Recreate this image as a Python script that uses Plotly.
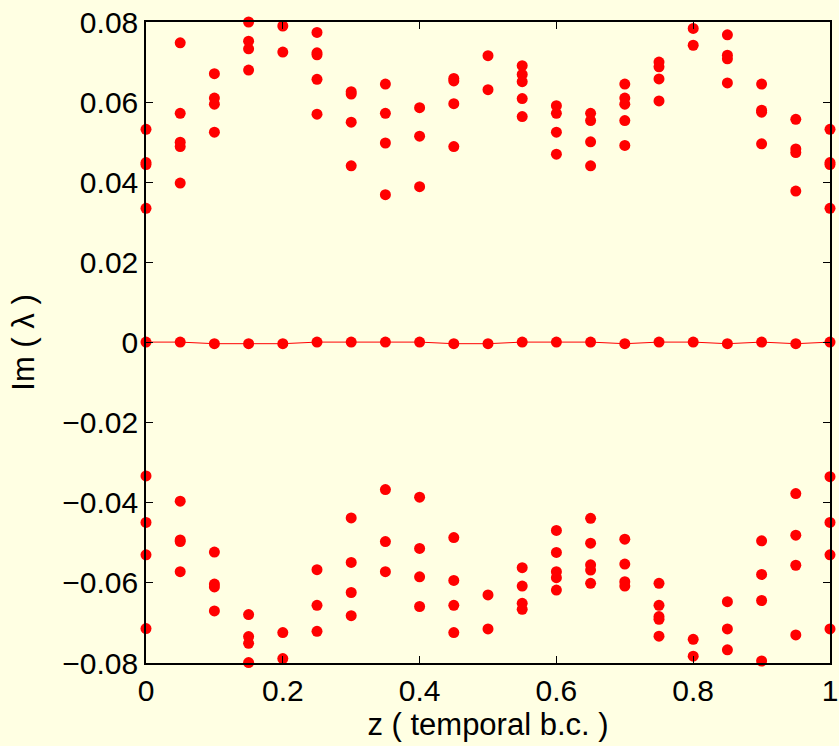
import plotly.graph_objects as go

z = [0.0, 0.05, 0.10, 0.15, 0.20, 0.25, 0.30, 0.35, 0.40, 0.45, 0.50,
     0.55, 0.60, 0.65, 0.70, 0.75, 0.80, 0.85, 0.90, 0.95, 1.0]

im_upper = [
    [0.0532, 0.0449, 0.0444, 0.0335],
    [0.0748, 0.0572, 0.0500, 0.0489, 0.0398],
    [0.0671, 0.0610, 0.0595, 0.0525],
    [0.0800, 0.0752, 0.0733, 0.0680],
    [0.0790, 0.0725],
    [0.0774, 0.0723, 0.0718, 0.0657, 0.0570],
    [0.0626, 0.0620, 0.0550, 0.0441],
    [0.0645, 0.0572, 0.0498, 0.0369],
    [0.0586, 0.0515, 0.0389],
    [0.0659, 0.0653, 0.0596, 0.0489],
    [0.0716, 0.0631],
    [0.0691, 0.0669, 0.0651, 0.0609, 0.0564],
    [0.0591, 0.0572, 0.0525, 0.0470],
    [0.0572, 0.0554, 0.0501, 0.0441],
    [0.0645, 0.0610, 0.0595, 0.0554, 0.0492],
    [0.0700, 0.0688, 0.0658, 0.0603],
    [0.0784, 0.0742],
    [0.0768, 0.0717, 0.0708, 0.0648],
    [0.0645, 0.0580, 0.0575, 0.0496],
    [0.0557, 0.0483, 0.0474, 0.0378],
    [0.0532, 0.0449, 0.0444, 0.0335],
]

im_lower = [
    [-0.0333, -0.0449, -0.0530, -0.0714],
    [-0.0396, -0.0493, -0.0497, -0.0572],
    [-0.0523, -0.0603, -0.0610, -0.0670],
    [-0.0679, -0.0734, -0.0751, -0.0799],
    [-0.0724, -0.0789],
    [-0.0567, -0.0656, -0.0721],
    [-0.0438, -0.0549, -0.0624, -0.0682],
    [-0.0367, -0.0497, -0.0572],
    [-0.0386, -0.0514, -0.0585, -0.0659],
    [-0.0487, -0.0594, -0.0656, -0.0724],
    [-0.0630, -0.0715],
    [-0.0562, -0.0608, -0.0651, -0.0666],
    [-0.0469, -0.0524, -0.0572, -0.0587, -0.0618],
    [-0.0439, -0.0501, -0.0555, -0.0568, -0.0601],
    [-0.0491, -0.0553, -0.0597, -0.0608],
    [-0.0601, -0.0656, -0.0684, -0.0691, -0.0733],
    [-0.0741, -0.0783],
    [-0.0647, -0.0715, -0.0767],
    [-0.0495, -0.0579, -0.0644, -0.0795],
    [-0.0377, -0.0481, -0.0556, -0.0730],
    [-0.0335, -0.0449, -0.0530, -0.0715],
]

im_zero = [0.0001, 0.0001, -0.0003, -0.0003, -0.0003, 0.0001, 0.0001, 0.0001,
           0.0001, -0.0003, -0.0003, 0.0001, 0.0001, 0.0001, -0.0003, 0.0001,
           0.0001, -0.0003, 0.0001, -0.0003, 0.0001]

x_ticks = [0, 0.2, 0.4, 0.6, 0.8, 1]
x_tick_text = ["0", "0.2", "0.4", "0.6", "0.8", "1"]
y_ticks = [-0.08, -0.06, -0.04, -0.02, 0, 0.02, 0.04, 0.06, 0.08]
y_tick_text = ["\u22120.08", "\u22120.06", "\u22120.04", "\u22120.02", "0",
               "0.02", "0.04", "0.06", "0.08"]

RED = "#ff0000"
BG = "#ffffe3"
FONT = "Liberation Sans, Arial"

xs, ys = [], []
for zi, up, lo in zip(z, im_upper, im_lower):
    for v in up + lo:
        xs.append(zi)
        ys.append(v)

fig = go.Figure()
fig.add_trace(go.Scatter(x=xs, y=ys, mode="markers",
                         marker=dict(color=RED, size=11, line=dict(width=0)),
                         showlegend=False, cliponaxis=False))
fig.add_trace(go.Scatter(x=z, y=im_zero, mode="lines+markers",
                         line=dict(color=RED, width=1),
                         marker=dict(color=RED, size=11, line=dict(width=0)),
                         showlegend=False, cliponaxis=False))

axis_common = dict(showgrid=False, zeroline=False, showline=True,
                   linecolor="black", linewidth=1.5, mirror="ticks",
                   ticks="inside", ticklen=7, tickwidth=1, tickcolor="black",
                   tickfont=dict(family=FONT, size=30, color="black"))

fig.update_layout(
    width=839, height=746,
    paper_bgcolor=BG, plot_bgcolor=BG,
    margin=dict(l=146, r=9, t=22, b=83),
    font=dict(family=FONT, color="black"),
    xaxis=dict(range=[0, 1], tickvals=x_ticks, ticktext=x_tick_text,
               title=dict(text="z ( temporal b.c. )",
                          font=dict(size=31, family=FONT),
                          standoff=6),
               automargin=False, **axis_common),
    yaxis=dict(range=[-0.08, 0.08], tickvals=y_ticks, ticktext=y_tick_text,
               title=dict(text="Im ( \u03bb )",
                          font=dict(size=31, family=FONT),
                          standoff=18),
               automargin=False, **axis_common),
)

fig.write_html("out.html")
